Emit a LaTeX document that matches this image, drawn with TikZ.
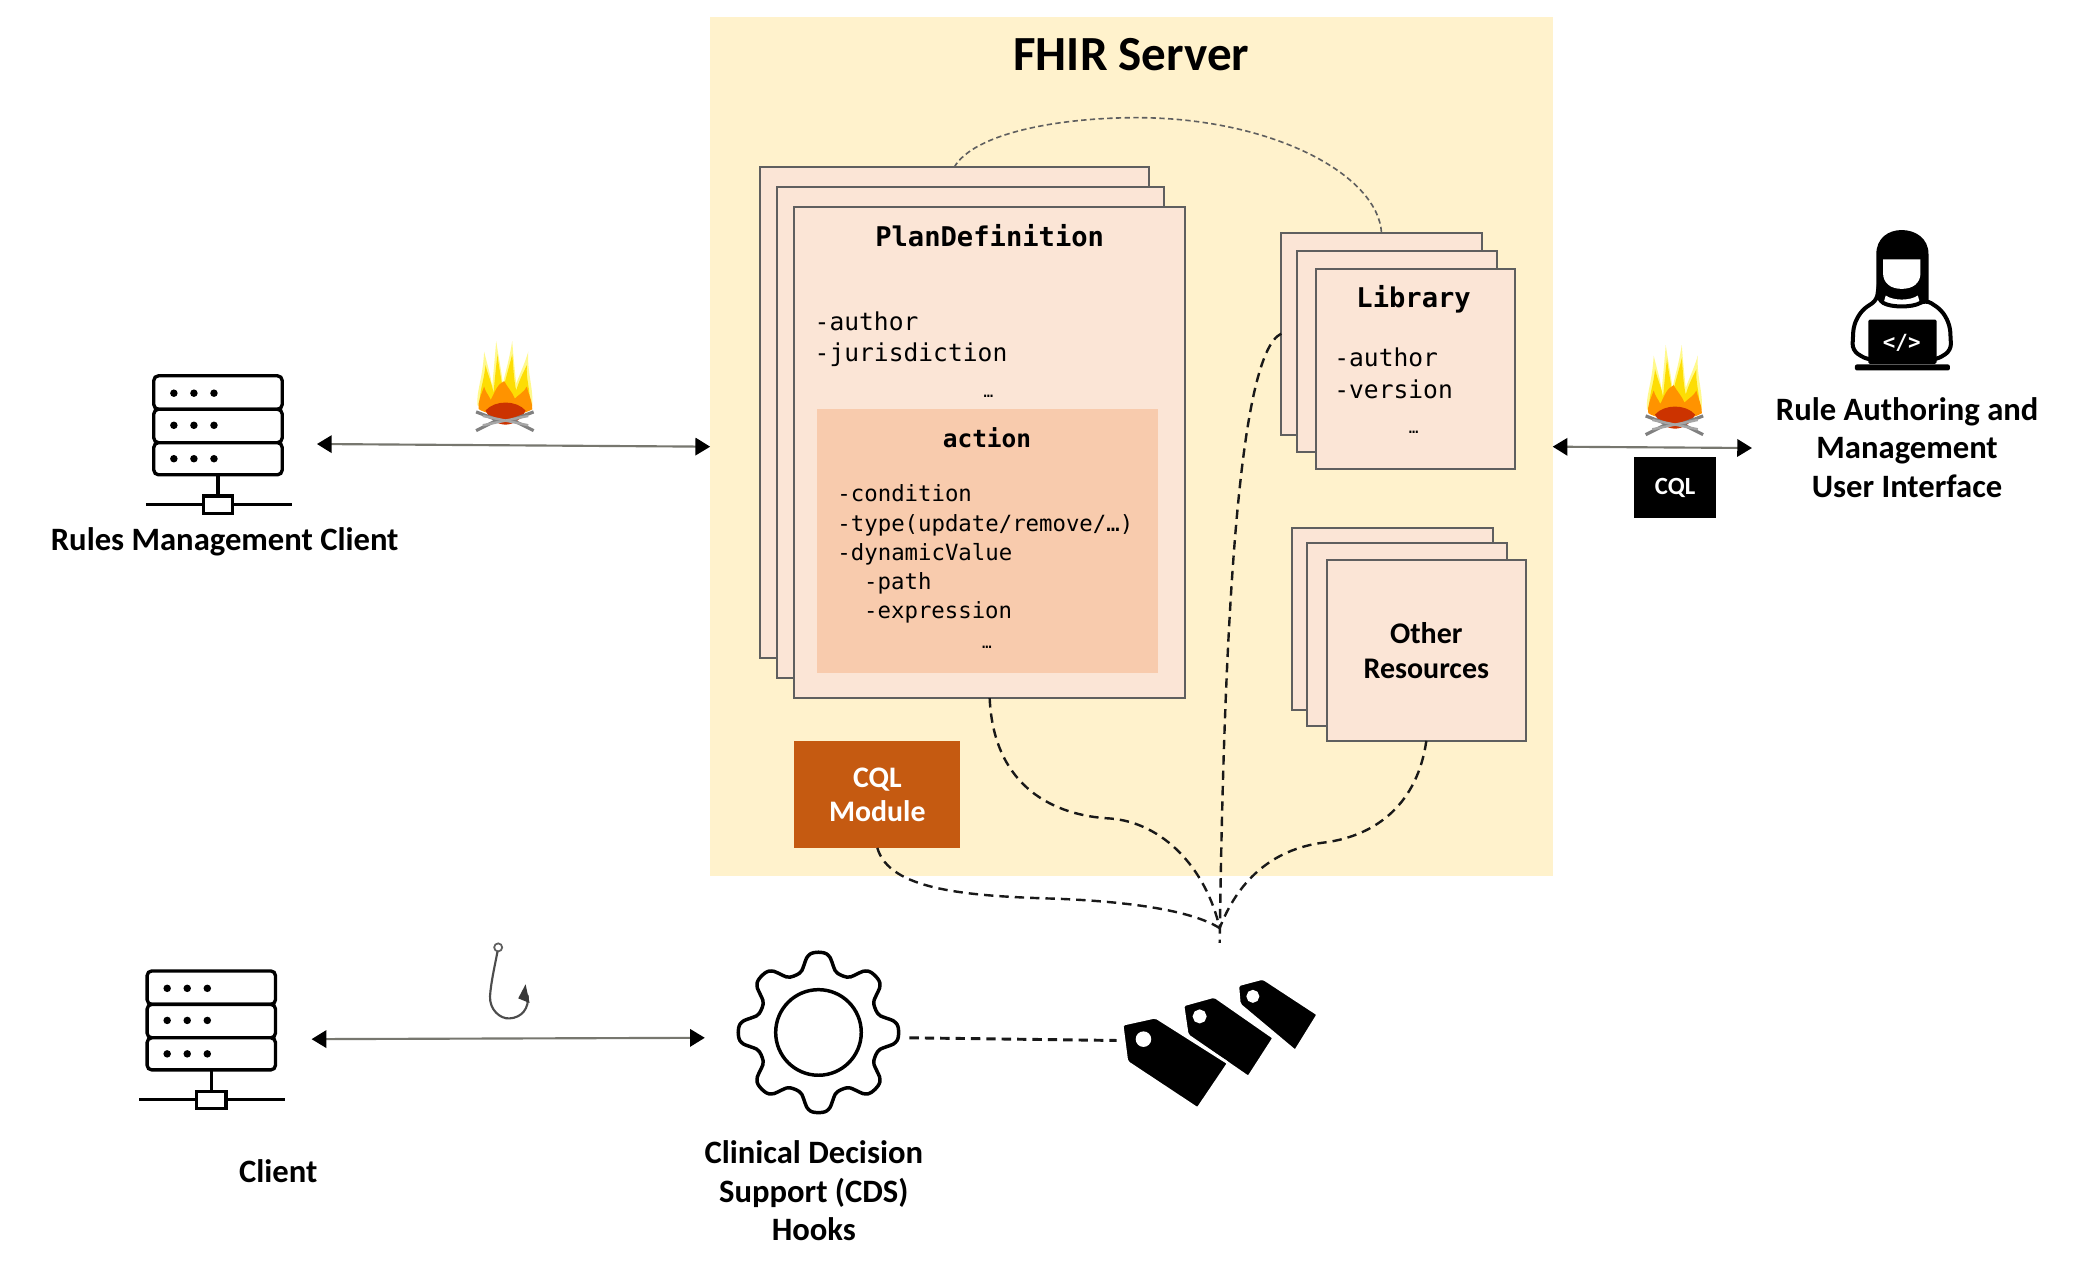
\documentclass[tikz,border=0pt]{standalone}
\usepackage{fontspec}
\setmainfont{Carlito}
\newfontfamily\monof{DejaVu Sans Mono}
\usetikzlibrary{arrows.meta}
\definecolor{panelc}{HTML}{FFF2CC}
\definecolor{boxc}{HTML}{FBE5D6}
\definecolor{actc}{HTML}{F8CBAD}
\definecolor{edgec}{HTML}{5F5F5F}
\definecolor{modc}{HTML}{C55A11}
\definecolor{arrc}{HTML}{77776F}
\newcommand{\fs}[2]{\fontsize{#1}{#2}\selectfont}
\tikzset{
  panelbox/.style={fill=panelc,draw=none,inner sep=0,outer sep=0},
  stackbox/.style={fill=boxc,draw=edgec,line width=1.5pt,inner sep=0,outer sep=0},
  actbox/.style={fill=actc,draw=none,inner sep=0,outer sep=0},
  modbox/.style={fill=modc,draw=none,inner sep=0,outer sep=0},
  blackbox/.style={fill=black,draw=none,inner sep=0,outer sep=0},
  titlet/.style={font=\bfseries\fs{36.7}{40},inner sep=0},
  labelt/.style={font=\bfseries\fs{24.4}{28.7},align=center,inner sep=0},
  headt/.style={font=\monof\bfseries\fs{20.3}{24},inner sep=0},
  attrt/.style={font=\monof\fs{18.4}{23.5},align=left,inner sep=0,anchor=west},
  actt/.style={font=\monof\fs{16.7}{22},align=left,inner sep=0,anchor=west},
  dotst/.style={font=\monof\fs{12}{14},inner sep=0},
  flow/.style={dash pattern=on 7pt off 4.5pt,line width=1.8pt,black!90},
  thinflow/.style={dash pattern=on 4pt off 2.5pt,line width=1.2pt,edgec},
  duplex/.style={arrc,line width=1.6pt,{Triangle[length=11pt,width=13pt,black]}-{Triangle[length=11pt,width=13pt,black]}},
  ico/.style={line width=2.5pt,black},
  server/.pic={
    \draw[ico,rounded corners=3.5pt,fill=white] (-48,0) rectangle (48,25);
    \draw[ico,rounded corners=3.5pt,fill=white] (-48,25) rectangle (48,50);
    \draw[ico,rounded corners=3.5pt,fill=white] (-48,50) rectangle (48,74);
    \foreach \ry in {13,37,62}{\foreach \rx in {-33,-18,-3}{\fill (\rx,\ry) circle (2.8);}}
    \draw[ico] (0,74) -- (0,90);
    \draw[ico] (-54,96) -- (55,96);
    \draw[ico,fill=white] (-11,90) rectangle (11,103);
  },
  flame/.pic={
    \fill[yellow!45!white] (-21,-20) .. controls (-22,-30) and (-17,-40) .. (-16,-60) .. controls (-13,-48) and (-11,-42) .. (-10,-34) .. controls (-9,-45) and (-8,-55) .. (-7,-68) .. controls (-5,-55) and (-3,-45) .. (-2,-36) .. controls (0,-45) and (3,-55) .. (5,-68) .. controls (6,-55) and (7,-45) .. (8,-36) .. controls (10,-42) and (14,-50) .. (17,-60) .. controls (16,-45) and (21,-32) .. (20,-20) .. controls (15,-14) and (-15,-14) .. (-21,-20) -- cycle;
    \fill[yellow!80!orange] (-19,-21) .. controls (-20,-30) and (-16,-38) .. (-15,-50) .. controls (-13,-42) and (-10,-36) .. (-9,-29) .. controls (-8,-40) and (-7,-50) .. (-6,-58) .. controls (-5,-48) and (-3,-40) .. (-2,-31) .. controls (0,-40) and (3,-50) .. (5,-58) .. controls (6,-48) and (6,-40) .. (8,-31) .. controls (10,-38) and (13,-44) .. (16,-50) .. controls (15,-40) and (19,-30) .. (18,-21) -- cycle;
    \fill[orange!85!yellow] (-20,-17) .. controls (-21,-23) and (-18,-28) .. (-16,-34) .. controls (-15,-30) and (-13,-28) .. (-11,-24) .. controls (-8,-30) and (-6,-36) .. (-1,-38) .. controls (1,-34) and (5,-30) .. (7,-25) .. controls (10,-28) and (14,-30) .. (16,-34) .. controls (17,-28) and (20,-24) .. (20,-17) .. controls (10,-11) and (-10,-11) .. (-20,-17) -- cycle;
    \fill[orange!50!red!80!black] (-15,-16) .. controls (-8,-24) and (8,-24) .. (15,-16) .. controls (8,-2) and (-8,-2) .. (-15,-16) -- cycle;
    \draw[gray,line width=2.4pt] (-22,-15) -- (-6,-9) -- (-22,-1);
    \draw[gray,line width=2.4pt] (21,-15) -- (5,-9) -- (21,-1);
    \draw[gray!70,line width=1.8pt] (-17,-5) -- (17,-12);
    \draw[gray!70,line width=1.8pt] (-17,-12) -- (17,-5);
  }
}
\begin{document}
\begin{tikzpicture}[x=1pt,y=-1pt]
\useasboundingbox (0,0) rectangle (1568,954.9);
\fill[white] (0,0) rectangle (1568,954.9);

% FHIR panel
\node[panelbox,minimum width=630pt,minimum height=642pt] (panel) at (846,334) {};
\node[titlet] (title) at (846,41) {FHIR Server};

% PlanDefinition stack
\node[stackbox,minimum width=291pt,minimum height=367pt] (pd1) at (713.5,308.5) {};
\node[stackbox,minimum width=289pt,minimum height=367pt] (pd2) at (725.5,323.5) {};
\node[stackbox,minimum width=292pt,minimum height=367pt] (pd3) at (740,338.5) {};
\node[headt] (pdt) at (740,176) {PlanDefinition};
\node[attrt] (pda) at (609,253.5) {-author\\-jurisdiction};
\node[dotst] (pdd) at (739,296) {…};
\node[actbox,minimum width=255pt,minimum height=197pt] (act) at (738.5,404.5) {};
\node[headt,font=\monof\bfseries\fs{18.3}{22}] (actt) at (738,327) {action};
\node[actt] (actl) at (626,392.5) {-condition\\-type(update/remove/…)\\-dynamicValue};
\node[actt] (actm) at (646,447) {-path\\-expression};
\node[dotst] (actd) at (738,484) {…};

% Library stack
\node[stackbox,minimum width=150pt,minimum height=151pt] (lib1) at (1033,249.5) {};
\node[stackbox,minimum width=149pt,minimum height=150pt] (lib2) at (1044.5,263) {};
\node[stackbox,minimum width=149pt,minimum height=150pt] (lib3) at (1058.5,276) {};
\node[headt] (libt) at (1057,224) {Library};
\node[attrt] (liba) at (997.5,279) {-author\\-version};
\node[dotst] (libd) at (1057,323) {…};

% Other resources stack
\node[stackbox,minimum width=150pt,minimum height=136pt] (oth1) at (1041,463) {};
\node[stackbox,minimum width=150pt,minimum height=137pt] (oth2) at (1052,474.5) {};
\node[stackbox,minimum width=149pt,minimum height=135pt,font=\bfseries\fs{22.4}{25.5},align=center] (oth3) at (1066.5,486.5) {Other\\Resources};

% CQL module
\node[modbox,minimum width=124pt,minimum height=80pt,text=white,font=\bfseries\fs{22.3}{25.5},align=center] (mod) at (656,594) {CQL\\Module};

% dashed links
\coordinate (hub) at (912,705);
\coordinate (hubin) at (912,694);
\draw[thinflow] (pd1.north) .. controls (728,100) and (790,88) .. (850,88) .. controls (950,88) and (1030,130) .. (lib1.north);
\draw[flow] (pd3.south) .. controls (743,590) and (790,610) .. (830,612) .. controls (870,615) and (902,650) .. (hubin);
\draw[flow] (lib1.west) .. controls (925,265) and (915,480) .. (hub);
\draw[flow] (oth3.south) .. controls (1060,600) and (1030,625) .. (990,630) .. controls (950,635) and (925,660) .. (hubin);
\draw[flow] (mod.south) .. controls (665,665) and (720,670) .. (790,672) .. controls (840,674) and (890,680) .. (hubin);

% left client
\pic at (163,281) {server};
\node[labelt] (rmc) at (168,405) {Rules Management Client};
\coordinate (rmcr) at (237,332);
\draw[duplex] (rmcr) -- (panel.west);
\pic at (378,323) {flame};

% right side
\coordinate (uir) at (1310,335);
\draw[duplex] (panel.east) -- (uir);
\pic at (1252.5,326) {flame};
\node[blackbox,minimum width=61pt,minimum height=46pt,text=white,font=\bfseries\fs{18.5}{20}] (cql) at (1252.5,364.5) {CQL};

% person
\fill (1403,226) -- (1403,190) .. controls (1403,178) and (1412,172) .. (1422,172) .. controls (1432,172) and (1442,178) .. (1442,190) -- (1442,226) -- cycle;
\fill[white] (1408,194) -- (1436,194) -- (1436,204) .. controls (1436,212) and (1430,216) .. (1422,216) .. controls (1414,216) and (1408,212) .. (1408,204) -- cycle;
\fill[white] (1410,221) .. controls (1416,225) and (1428,225) .. (1434,221) -- (1436,228) -- (1408,228) -- cycle;
\draw[line width=3pt,rounded corners=5pt,fill=white] (1404,224) -- (1392,232) -- (1386,243) -- (1385,262) -- (1396,269) -- (1448,269) -- (1459,262) -- (1458,243) -- (1452,232) -- (1440,224) .. controls (1430,230) and (1414,230) .. (1404,224) -- cycle;
\fill[rounded corners=1pt] (1397,239) rectangle (1448,272);
\fill[rounded corners=1.5pt] (1387,272.5) rectangle (1458,277);
\node[text=white,font=\monof\bfseries\fs{15.6}{18},inner sep=0] (code) at (1422,256.5) {</>};
\node[labelt] (ui) at (1426,334.5) {Rule Authoring and\\Management\\User Interface};

% bottom client
\pic at (158,726) {server};
\node[labelt] (cl) at (208,876) {Client};
\coordinate (clr) at (233,777);
\coordinate (cdsl) at (527,776);
\draw[duplex] (clr) -- (cdsl);

% hook
\draw[edgec,line width=1.3pt] (372.5,708.4) circle (3);
\draw[edgec!80!black,line width=1.6pt] (372,711.5) .. controls (370,722) and (367,735) .. (366.4,745) .. controls (366,755) and (374,762) .. (381,761.5) .. controls (390,761) and (396,754) .. (394.5,744);
\fill[edgec!60!black] (393,736) -- (396,750) -- (387.5,746.5) -- cycle;

% gear
\node[circle,minimum size=136pt,inner sep=0,outer sep=0] (gear) at (612,776) {};
\draw[line width=2.6pt] plot[domain=0:357,samples=120,smooth cycle] ({612+(53+7*tanh(1.6*cos(8*\x))/tanh(1.6))*cos(\x)},{772+(53+7*tanh(1.6*cos(8*\x))/tanh(1.6))*sin(\x)});
\draw[line width=2.6pt] (612,772) circle (32);
\node[labelt] (cds) at (608.5,890.5) {Clinical Decision\\Support (CDS)\\Hooks};

% tags
\coordinate (tagl) at (835,778);
\draw[flow,line width=2.2pt] (gear.east) -- (tagl);
\fill[draw=white,line width=2pt,rounded corners=1.5pt,even odd rule] (925.5,736.5) -- (944.3,731.5) -- (985.5,758.5) -- (968.5,786) -- (926.7,751) -- cycle (936.8,745) circle (3.8);
\fill[draw=white,line width=2pt,rounded corners=1.5pt,even odd rule] (884.5,751.5) -- (908,745) -- (952.5,776) -- (933.5,805.5) -- (887.8,774) -- cycle (897,760) circle (4.2);
\fill[draw=white,line width=2pt,rounded corners=1.5pt,even odd rule] (839,766) -- (864,760.5) -- (918.5,795) -- (895.5,829) -- (842.6,794) -- cycle (855,777) circle (4.8);
\end{tikzpicture}
\end{document}
